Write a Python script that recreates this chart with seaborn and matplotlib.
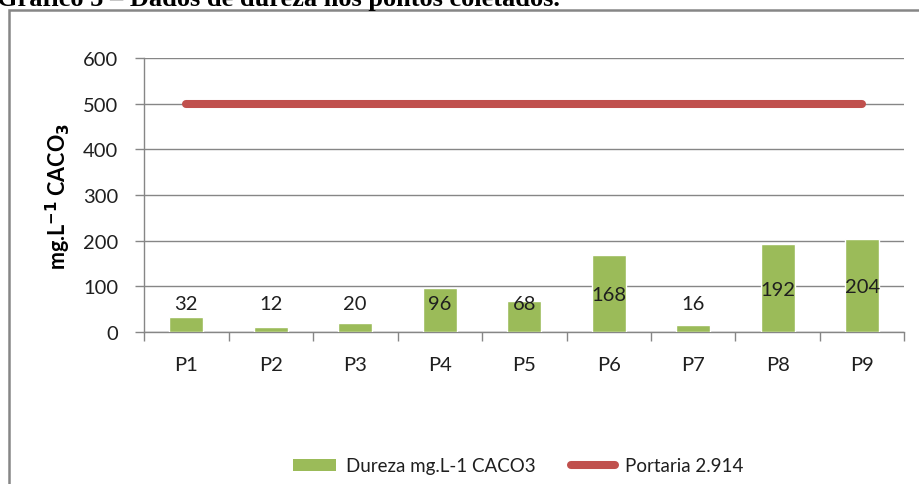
import numpy as np
import pandas as pd
import matplotlib
matplotlib.use("Agg")
import matplotlib.pyplot as plt
import seaborn as sns
from matplotlib.patches import Rectangle, Patch
from matplotlib.lines import Line2D

# ---- data ----
categories = ["P1", "P2", "P3", "P4", "P5", "P6", "P7", "P8", "P9"]
dureza = [32, 12, 20, 96, 68, 168, 16, 192, 204]
portaria = [500, 500, 500, 500, 500, 500, 500, 500, 500]
label_heights = [63, 63, 63, 63, 63, 83, 63, 93, 100]
yticks = [0, 100, 200, 300, 400, 500, 600]
series_names = ["Dureza mg.L-1 CACO3", "Portaria 2.914"]
title_text = "Gráfico 5 – Dados de dureza nos pontos coletados."

sns.set_style("white")
plt.rcParams["font.family"] = ["Lato", "DejaVu Sans"]

W, H = 920, 485
fig = plt.figure(figsize=(W / 100, H / 100), dpi=100)

GREEN = "#9BBB59"
RED = "#C0504D"
GRID = "#868686"
TXT = "#1f1f1f"

# axes in pixel positions
left, right, top, bottom = 144, 904.5, 59, 333
ax = fig.add_axes([left / W, (H - bottom) / H, (right - left) / W, (bottom - top) / H])

df = pd.DataFrame({"cat": categories, "val": dureza})
sns.barplot(data=df, x="cat", y="val", color=GREEN, width=0.4, saturation=1,
            ax=ax, zorder=3)
sns.lineplot(x=np.arange(len(categories)), y=portaria, color=RED, linewidth=5.8,
             solid_capstyle="round", ax=ax, zorder=4, legend=False)

ax.set_xlim(-0.5, len(categories) - 0.5)
ax.set_ylim(0, 600)
ax.set_yticks(yticks)
ax.yaxis.grid(True, color=GRID, linewidth=1.0, zorder=0)
ax.set_axisbelow(True)

for s in ["top", "right"]:
    ax.spines[s].set_visible(False)
for s in ["left", "bottom"]:
    ax.spines[s].set_color(GRID)
    ax.spines[s].set_linewidth(1.0)

ax.tick_params(axis="y", direction="out", length=6.5, width=1.0, color=GRID,
               labelsize=14.5, labelcolor=TXT, pad=12, left=True)
ax.set_xticks(np.arange(len(categories)))
ax.set_xticklabels(categories)
ax.tick_params(axis="x", which="major", length=0, labelsize=14.5, labelcolor=TXT, pad=17)
ax.set_xticks(np.arange(len(categories) + 1) - 0.5, minor=True)
ax.tick_params(axis="x", which="minor", direction="out", length=6.5, width=1.0,
               color=GRID, bottom=True)

ax.set_xlabel("")
ax.set_ylabel("mg.L$^{\\mathbf{-1}}$ CACO$_{\\mathbf{3}}$", fontsize=15.5,
              fontweight="bold", color="black")
ax.yaxis.set_label_coords((73 - left) / (right - left), 0.5)

for i, (v, ly) in enumerate(zip(dureza, label_heights)):
    ax.text(i, ly, str(v), ha="center", va="center", fontsize=14.5, color=TXT, zorder=5)

# legend
handles = [Patch(facecolor=GREEN, edgecolor="none"),
           Line2D([0], [0], color=RED, linewidth=5.8, solid_capstyle="round")]
fig.legend(handles, series_names, loc="center", bbox_to_anchor=(518 / W, 1 - 467 / H),
           ncol=2, frameon=False, fontsize=13.5, handlelength=2.3, handleheight=0.65,
           handletextpad=0.55, columnspacing=1.9, labelcolor=TXT)

# outer border (partially outside the image)
fig.patches.append(Rectangle((9.5 / W, -0.1), 1.2, 1.1 - 11 / H, transform=fig.transFigure,
                             fill=False, edgecolor=GRID, linewidth=1.8))

# title clipped at top
fig.text(-3 / W, 1 - 6 / H, title_text, ha="left", va="baseline",
         fontsize=19, fontweight="bold", family="Liberation Serif", color="black")

fig.savefig("out.png", dpi=100)
